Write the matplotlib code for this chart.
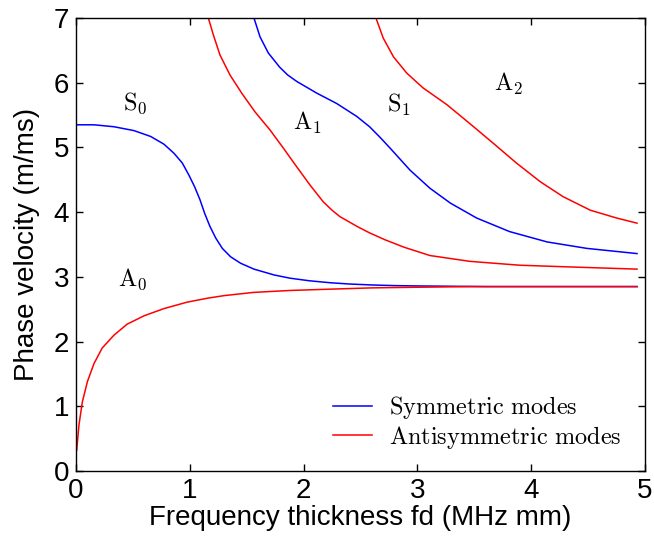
import matplotlib
matplotlib.use("Agg")
import matplotlib.pyplot as plt

plt.rcParams["mathtext.fontset"] = "cm"
plt.rcParams["font.family"] = "Liberation Sans"

# Symmetric modes
s0_x = [0.0, 0.158, 0.334, 0.51, 0.656, 0.773, 0.861, 0.934, 0.993, 1.043,
        1.09, 1.131, 1.177, 1.228, 1.286, 1.359, 1.447, 1.564, 1.74, 1.88,
        2.05, 2.23, 2.4, 2.6, 2.8, 3.0, 3.3, 3.6, 4.0, 4.5, 4.93]
s0_y = [5.35, 5.35, 5.32, 5.26, 5.17, 5.05, 4.91, 4.76, 4.57, 4.39,
        4.19, 3.98, 3.78, 3.60, 3.44, 3.31, 3.21, 3.12, 3.03, 2.98,
        2.94, 2.91, 2.89, 2.875, 2.865, 2.86, 2.855, 2.85, 2.85, 2.85, 2.85]

s1_x = [1.564, 1.617, 1.69, 1.79, 1.86, 1.94, 2.115, 2.29, 2.467, 2.58, 2.67,
        2.76, 2.935, 3.11, 3.29, 3.52, 3.81, 4.14, 4.49, 4.93]
s1_y = [7.0, 6.71, 6.46, 6.24, 6.12, 6.02, 5.84, 5.68, 5.48, 5.32, 5.16,
        4.99, 4.65, 4.37, 4.14, 3.91, 3.70, 3.54, 3.44, 3.36]

# Antisymmetric modes
a0_x = [0.006, 0.026, 0.056, 0.10, 0.158, 0.23, 0.334, 0.45, 0.60, 0.773,
        0.978, 1.154, 1.30, 1.56, 1.88, 2.23, 2.6, 3.0, 3.5, 4.0, 4.5, 4.93]
a0_y = [0.32, 0.71, 1.07, 1.38, 1.66, 1.90, 2.10, 2.27, 2.40, 2.51,
        2.61, 2.67, 2.71, 2.76, 2.79, 2.81, 2.83, 2.84, 2.85, 2.85, 2.85, 2.85]

a1_x = [1.163, 1.207, 1.265, 1.353, 1.456, 1.573, 1.705, 1.822, 1.94, 2.056,
        2.173, 2.25, 2.32, 2.40, 2.48, 2.58, 2.72, 2.88, 3.11, 3.46, 3.90,
        4.40, 4.93]
a1_y = [7.0, 6.74, 6.43, 6.12, 5.84, 5.55, 5.27, 4.99, 4.70, 4.42,
        4.16, 4.03, 3.93, 3.85, 3.77, 3.68, 3.57, 3.46, 3.33, 3.24, 3.18,
        3.15, 3.12]

a2_x = [2.636, 2.70, 2.79, 2.906, 3.05, 3.26, 3.46, 3.67, 3.87, 4.08, 4.28,
        4.52, 4.75, 4.93]
a2_y = [7.0, 6.69, 6.40, 6.15, 5.92, 5.66, 5.37, 5.06, 4.76, 4.47, 4.24,
        4.03, 3.91, 3.83]

mode_names = [r"$\mathrm{S_0}$", r"$\mathrm{A_0}$", r"$\mathrm{A_1}$",
              r"$\mathrm{S_1}$", r"$\mathrm{A_2}$"]
mode_x = [0.52, 0.50, 2.03, 2.84, 3.80]
mode_y = [5.69, 2.97, 5.38, 5.66, 5.98]

fig = plt.figure(figsize=(6.54, 5.38), dpi=100)
ax = fig.add_axes([0.1162, 0.1245, 0.87, 0.8420])

lw = 1.1
ax.plot(s0_x, s0_y, color="#0000ff", lw=lw, label=r"$\mathrm{Symmetric\ modes}$")
ax.plot(a0_x, a0_y, color="#ff0000", lw=lw, label=r"$\mathrm{Antisymmetric\ modes}$")
ax.plot(s1_x, s1_y, color="#0000ff", lw=lw)
ax.plot(a1_x, a1_y, color="#ff0000", lw=lw)
ax.plot(a2_x, a2_y, color="#ff0000", lw=lw)

for name, x, y in zip(mode_names, mode_x, mode_y):
    ax.text(x, y, name, fontsize=17.5, ha="center", va="center")

ax.set_xlim(0, 5)
ax.set_ylim(0, 7)
ax.set_xticks([0, 1, 2, 3, 4, 5])
ax.set_yticks([0, 1, 2, 3, 4, 5, 6, 7])
ax.tick_params(direction="in", top=True, right=True, length=5, width=1,
               labelsize=20, pad=5)
for sp in ax.spines.values():
    sp.set_linewidth(1.0)

ax.set_xlabel("Frequency thickness fd (MHz mm)", fontsize=20, labelpad=1)
ax.set_ylabel("Phase velocity (m/ms)", fontsize=20, labelpad=10)

ax.legend(loc="lower left", bbox_to_anchor=(0.452, 0.045), frameon=False,
          fontsize=17.5, handlelength=1.6, handletextpad=0.7, labelspacing=0.09,
          borderpad=0, borderaxespad=0)

plt.savefig("out.png", dpi=100)
